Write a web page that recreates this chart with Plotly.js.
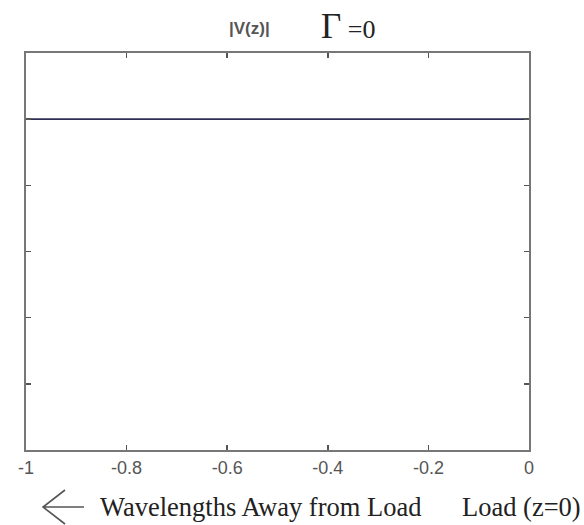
<!DOCTYPE html>
<html>
<head>
<meta charset="utf-8">
<script src="https://cdn.plot.ly/plotly-3.0.1.min.js"></script>
<style>html,body{margin:0;padding:0;background:#fff;}#chart{width:584px;height:525px;}</style>
</head>
<body>
<div id="chart"></div>
<script>
// Data: |V(z)| along the line for reflection coefficient Γ = 0 (flat, matched load)
const zWavelengths = [-1, -0.8, -0.6, -0.4, -0.2, 0];
const vMagnitude = [1, 1, 1, 1, 1, 1];
const xTickValues = [-1, -0.8, -0.6, -0.4, -0.2, 0];
const xTickLabels = ['-1', '-0.8', '-0.6', '-0.4', '-0.2', '0'];
const yTickValues = [0, 0.2, 0.4, 0.6, 0.8, 1.0, 1.2];

const trace = {
  x: zWavelengths,
  y: vMagnitude,
  type: 'scatter',
  mode: 'lines',
  line: {color: '#2e2e55', width: 1.6},
  hoverinfo: 'skip'
};

const margin = {l: 26, r: 55, t: 53, b: 75};
const W = 584 - margin.l - margin.r;
const H = 525 - margin.t - margin.b;
const px = x => (x - margin.l) / W;
const py = y => 1 - (y - margin.t) / H;

const layout = {
  width: 584,
  height: 525,
  margin: margin,
  paper_bgcolor: '#ffffff',
  plot_bgcolor: '#ffffff',
  showlegend: false,
  xaxis: {
    range: [-1, 0],
    tickvals: xTickValues,
    ticktext: xTickLabels,
    ticks: 'inside',
    ticklen: 5,
    tickwidth: 1.5,
    tickcolor: '#555',
    mirror: 'ticks',
    showline: true,
    linecolor: '#777',
    linewidth: 2,
    showgrid: false,
    zeroline: false,
    tickfont: {family: 'Liberation Sans, Arial, sans-serif', size: 18, color: '#555'}
  },
  yaxis: {
    range: [0, 1.2],
    tickvals: yTickValues,
    showticklabels: false,
    ticks: 'inside',
    ticklen: 5,
    tickwidth: 1.5,
    tickcolor: '#555',
    mirror: 'ticks',
    showline: true,
    linecolor: '#777',
    linewidth: 2,
    showgrid: false,
    zeroline: false
  },
  shapes: [
    {type: 'path', xref: 'paper', yref: 'paper',
     path: 'M ' + px(84) + ',' + py(507) + ' L ' + px(43) + ',' + py(507) +
           ' M ' + px(65) + ',' + py(490) + ' L ' + px(43) + ',' + py(507) + ' L ' + px(65) + ',' + py(524),
     line: {color: '#555', width: 1.6}}
  ],
  annotations: [
    {x: px(249), y: py(28), text: '<b>|V(z)|</b>', showarrow: false,
     font: {family: 'Liberation Sans, Arial, sans-serif', size: 17, color: '#555'}},
    {x: px(348), y: py(27), text: '<span style="font-size:35px">Γ</span> =0', showarrow: false,
     font: {family: 'Liberation Serif, Times New Roman, serif', size: 26, color: '#222'}},
    {x: px(260), y: py(507), text: 'Wavelengths Away from Load', showarrow: false,
     font: {family: 'Liberation Serif, Times New Roman, serif', size: 26.5, color: '#222'}},
    {x: px(521), y: py(507), text: 'Load (z=0)', showarrow: false,
     font: {family: 'Liberation Serif, Times New Roman, serif', size: 26.5, color: '#222'}}
  ]
};
layout.annotations.forEach(a => { a.xref = 'paper'; a.yref = 'paper'; a.xanchor = 'center'; a.yanchor = 'middle'; });

Plotly.newPlot('chart', [trace], layout, {displayModeBar: false, staticPlot: true});
</script>
</body>
</html>
